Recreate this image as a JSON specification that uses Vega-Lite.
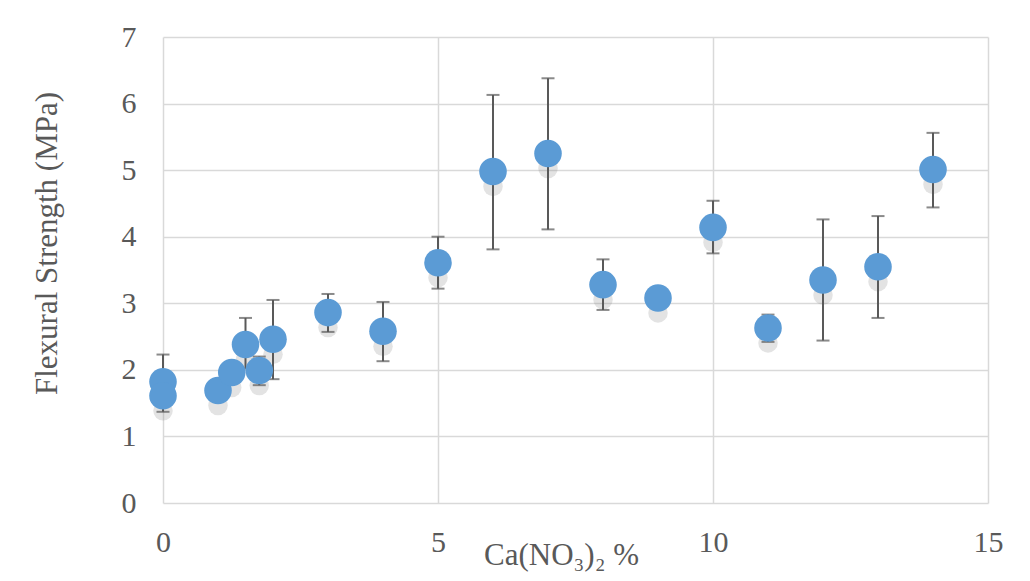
{
  "$schema": "https://vega.github.io/schema/vega-lite/v6.json",
  "width": 825,
  "height": 466,
  "autosize": {"type": "none"},
  "padding": {"left": 163, "top": 37, "right": 42, "bottom": 78},
  "background": "white",
  "config": {
    "view": {"stroke": null},
    "font": "Liberation Serif",
    "axis": {
      "grid": true,
      "gridColor": "#d9d9d9",
      "gridWidth": 1.5,
      "domain": false,
      "ticks": false,
      "labelFlush": false,
      "labelFont": "Liberation Serif",
      "labelFontSize": 30,
      "labelColor": "#595959",
      "titleFont": "Liberation Serif",
      "titleFontSize": 31,
      "titleFontWeight": "normal",
      "titleColor": "#595959"
    }
  },
  "data": {
    "values": [
      {"x": 0, "y": 1.82, "lo": 1.6, "hi": 2.23},
      {"x": 0, "y": 1.61, "lo": 1.37, "hi": 1.8},
      {"x": 1, "y": 1.69, "lo": null, "hi": null},
      {"x": 1.25, "y": 1.96, "lo": null, "hi": null},
      {"x": 1.5, "y": 2.38, "lo": 2.02, "hi": 2.78},
      {"x": 1.75, "y": 1.99, "lo": 1.77, "hi": 2.2},
      {"x": 2, "y": 2.46, "lo": 1.86, "hi": 3.05},
      {"x": 3, "y": 2.86, "lo": 2.57, "hi": 3.14},
      {"x": 4, "y": 2.58, "lo": 2.13, "hi": 3.02},
      {"x": 5, "y": 3.61, "lo": 3.22, "hi": 4.0},
      {"x": 6, "y": 4.98, "lo": 3.81, "hi": 6.13},
      {"x": 7, "y": 5.25, "lo": 4.11, "hi": 6.38},
      {"x": 8, "y": 3.28, "lo": 2.9, "hi": 3.66},
      {"x": 9, "y": 3.08, "lo": null, "hi": null},
      {"x": 10, "y": 4.14, "lo": 3.75, "hi": 4.54},
      {"x": 11, "y": 2.63, "lo": 2.42, "hi": 2.83},
      {"x": 12, "y": 3.35, "lo": 2.44, "hi": 4.26},
      {"x": 13, "y": 3.55, "lo": 2.78, "hi": 4.31},
      {"x": 14, "y": 5.01, "lo": 4.44, "hi": 5.56}
    ]
  },
  "encoding": {
    "x": {
      "field": "x",
      "type": "quantitative",
      "scale": {"domain": [0, 15], "nice": false},
      "axis": {
        "values": [0, 5, 10, 15],
        "labelPadding": 24,
        "title": "Ca(NO₃)₂ %",
        "titleX": 398,
        "titleY": 52,
        "titleBaseline": "middle",
        "titleAnchor": null
      }
    },
    "y": {
      "field": "y",
      "type": "quantitative",
      "scale": {"domain": [0, 7], "nice": false},
      "axis": {
        "values": [0, 1, 2, 3, 4, 5, 6, 7],
        "labelPadding": 27,
        "title": "Flexural Strength (MPa)",
        "titleAngle": -90,
        "titleX": -116,
        "titleY": 206,
        "titleBaseline": "middle",
        "titleAlign": "center"
      }
    }
  },
  "layer": [
    {
      "mark": {"type": "point", "filled": true, "shape": "circle", "color": "#808080", "opacity": 0.22, "size": 380, "yOffset": 15}
    },
    {
      "transform": [{"filter": "isValid(datum.lo)"}],
      "mark": {"type": "rule", "color": "#595959", "strokeWidth": 2},
      "encoding": {
        "y": {"field": "lo", "type": "quantitative"},
        "y2": {"field": "hi"}
      }
    },
    {
      "transform": [{"filter": "isValid(datum.lo)"}],
      "mark": {"type": "tick", "orient": "horizontal", "color": "#595959", "thickness": 2, "size": 13},
      "encoding": {
        "y": {"field": "lo", "type": "quantitative"}
      }
    },
    {
      "transform": [{"filter": "isValid(datum.hi)"}],
      "mark": {"type": "tick", "orient": "horizontal", "color": "#595959", "thickness": 2, "size": 13},
      "encoding": {
        "y": {"field": "hi", "type": "quantitative"}
      }
    },
    {
      "mark": {"type": "point", "filled": true, "shape": "circle", "color": "#5b9bd5", "opacity": 1, "size": 760}
    }
  ]
}
